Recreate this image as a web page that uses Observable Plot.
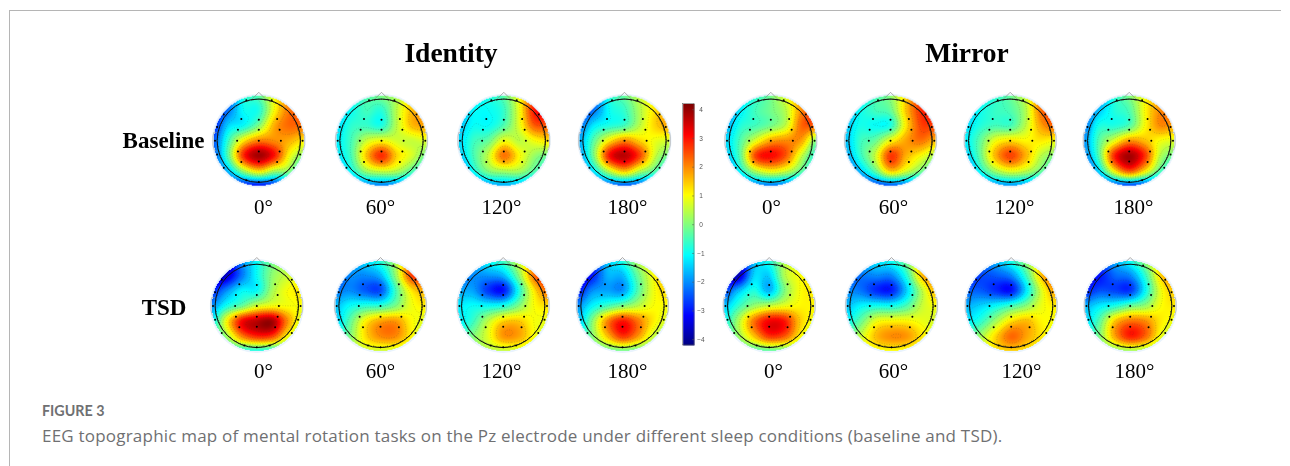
<!DOCTYPE html>
<html><head><meta charset="utf-8">
<script src="https://cdn.jsdelivr.net/npm/d3@7"></script>
<script src="https://cdn.jsdelivr.net/npm/@observablehq/plot@0.6"></script>
<style>
html,body{margin:0;padding:0;background:#fff;width:1290px;height:466px;overflow:hidden}
#all{position:absolute;left:0;top:0;width:1290px;height:466px}
#frame{position:absolute;left:9px;top:10px;width:1271px;height:456px;border-left:1px solid #b5b5b5;border-top:1px solid #b5b5b5}
#chart{position:absolute;left:0;top:0}
#chart svg{filter:blur(.35px)}
#fig{position:absolute;left:42px;top:402px;font:700 14.3px Lato,sans-serif;color:#6f7072}
#cap{position:absolute;left:42px;top:424px;font:400 17px "Open Sans",sans-serif;letter-spacing:.21px;color:#6f7072;white-space:nowrap}
</style></head><body><div id="all">
<div id="frame"></div><div id="chart"></div>
<div id="fig">FIGURE 3</div>
<div id="cap">EEG topographic map of mental rotation tasks on the Pz electrode under different sleep conditions (baseline and TSD).</div>
</div>
<script>
const conditions = ["Identity","Mirror"];
const sleepStates = ["Baseline","TSD"];
const angles = ["0°","60°","120°","180°"];
const colorTicks = [4,3,2,1,0,-1,-2,-3,-4];

const baseIdentity0 = [-3,-2.5,-0.8,-0.3,1,2,2, -3.2,-2.2,-1,-0.8,1,2.2,2.3, -3,-1.4,-1,0,1.7,2.3,2.2, -2.5,-0.6,1.2,2.1,2,1.7,1.2, -2.5,-0.3,2.8,3.9,3,1,0, -2.8,-1.6,0.2,1.2,0.3,0,-1.5, -3.2,-3,-3.2,-3.2,-3,-2.6,-2.4];
const baseIdentity60 = [-1.5,-1,-0.4,0,0.4,1.2,1.5, -1.6,-1,-0.5,-0.7,0.5,1.6,1.8, -1.4,-0.7,-0.6,-0.8,0.5,1.6,1.8, -1.2,-0.5,0.6,1,0.7,0.6,0.8, -1.3,-0.5,1.5,2.8,1.4,0.7,-0.2, -2,-1,0.2,0.6,0.4,-0.4,-1.3, -2.5,-2.4,-2.2,-2.2,-2.2,-2.2,-2.2];
const baseIdentity120 = [-1.8,-1.2,-0.8,-0.3,1,2.6,3.1, -1.8,-1.1,-1,-0.6,0.9,3,3.3, -1.6,-1,-1,-0.4,0.8,2.4,2.4, -1.4,-0.6,-0.2,0.9,0.5,1,1.3, -1.6,-0.5,0.6,2.2,1.1,0.2,-0.2, -2.6,-1,0,0.3,0.3,-0.4,-1, -3,-2.5,-2,-1.8,-1.8,-2,-2];
const baseIdentity180 = [-3,-2.5,-0.8,-0.2,0.6,1.2,1.5, -3,-2.2,-1,-0.6,0.4,1.3,1.8, -2.3,-1.2,-0.8,-0.5,0.5,1.4,1.8, -1.8,-0.3,1.2,2,1.4,0.9,0.7, -2,0,3,3.7,2.6,0.6,-0.2, -2.5,-1.2,0.5,1.5,0.4,-0.4,-1.4, -3,-2.8,-2.6,-2.6,-2.6,-2.6,-2.6];
const baseMirror0 = [-2,-1.3,-0.7,-0.1,0.9,2,2.5, -2.2,-1.2,-0.5,-0.1,0.5,2,3, -1.8,-0.8,-0.5,-0.1,0.6,2.3,2.4, -1.4,-0.4,0.8,1.8,2,1.8,0, -1.6,-0.3,2.6,3.1,2.4,0.6,-0.8, -2.4,-1,0.4,1,0.6,-0.3,-1.2, -3,-2.5,-2.3,-2.3,-2.3,-2.3,-2.3];
const baseMirror60 = [-1.8,-1.3,-0.5,0.1,1.4,2.8,3, -2,-1,-0.5,-0.2,1.5,2.8,3.1, -1.6,-0.9,-1,-0.8,1.2,2.6,2.6, -1.6,-0.6,-0.2,1,1.8,2.2,1.6, -1.9,-0.7,0.6,2.7,1.7,1,0.3, -2.7,-1.6,-0.3,1.4,0.7,-0.1,-0.8, -3.4,-3,-2.8,-2.6,-2.4,-2.2,-2];
const baseMirror120 = [-1.8,-1.2,-0.7,-0.2,0.7,2.2,3, -1.8,-1,-0.6,-0.4,0.4,2.2,3, -1.4,-0.8,-0.5,-0.5,0.5,1.8,2.4, -1.2,-0.3,0.9,1.3,1.1,1.2,1, -1.6,-0.3,1.6,2.6,1.7,0.5,0, -2.5,-1,0.2,0.8,0.5,-0.2,-1, -2.8,-2.4,-2.1,-2,-2,-2.2,-2.2];
const baseMirror180 = [-2.8,-2.2,-0.8,0,1,1.7,1.9, -2.8,-1.6,-0.8,-0.4,1,2,2.2, -2.3,-0.9,-0.8,-0.4,1,2,1.8, -2,-0.4,0.8,1.9,1.6,1,0.8, -2.2,-0.4,2.8,3.9,2.8,0.5,-0.2, -3,-1.4,1,2.4,1.2,-0.4,-1.4, -3.4,-3.1,-2.8,-2.8,-2.8,-2.8,-2.8];
const tsdIdentity0 = [-4,-3.6,-2,-1,-0.1,0.3,0.5, -4,-3.6,-2.2,-1,0.1,0.6,0.9, -3,-2,-1.1,-1,0.3,1,1.2, -2,-0.9,-0.2,0.7,1,1,1, -1.3,1,3.1,3.7,3.9,2,0.6, -1,0.2,2,2.8,2.6,1,0, -1.2,-1,-1,-1,-1,-0.7,-0.7];
const tsdIdentity60 = [-2.2,-1.8,-1.3,-0.7,0.4,2.4,2.8, -2.6,-2,-2,-1.6,0.2,2.6,2.8, -2.2,-2,-2.4,-2.5,-0.5,1.2,1.8, -1.6,-1,-0.7,-0.6,0,0.9,1.2, -1.5,-0.3,1.1,1.8,1.9,1.1,0.8, -1,0,1.3,2,2,1.1,0.3, -0.3,0.3,0.6,0.6,0.6,0.3,0];
const tsdIdentity120 = [-2.4,-1.8,-1,-0.5,0.6,1.8,2.6, -2.4,-2,-1.9,-1.6,0,2.2,3.2, -1.8,-1.8,-2.7,-3,-0.9,1.2,2.4, -1.2,-1,-1,-0.8,0,1,1.3, -1.2,-0.6,0.5,1.4,1.5,1,0.9, -0.7,0,0.8,1.9,1.8,1,0.4, 0,0.1,0.4,0.5,0.6,0.5,0.3];
const tsdIdentity180 = [-3.6,-3,-1.5,-0.8,0.4,1.2,1.5, -3.8,-3,-1.7,-1.6,-0.2,1,1.8, -3.2,-2,-1.8,-1.9,-0.4,0.9,1.4, -2,-1.1,-0.5,0,0.5,1,1, -1.7,0,2,3,2.2,1.2,0.7, -1.2,0,1.5,2.7,1.9,0.6,0, -0.8,-0.5,-0.3,-0.2,-0.3,-0.3,-0.3];
const tsdMirror0 = [-3.8,-3.6,-1.6,-0.8,0.4,0.9,1, -4,-3.7,-1.4,-1.4,0.4,1,1.2, -2.8,-1.6,-0.8,-1.6,0,1,1.2, -1.6,-0.6,0.2,0.6,0.9,1.1,1.1, -1,0.4,2.2,3.2,3,1.5,0.9, -0.8,0.2,1.5,2.7,2.4,1.1,0.3, -0.8,-0.6,-0.5,-0.4,-0.3,-0.2,-0.2];
const tsdMirror60 = [-2,-1.6,-1.2,-0.9,0,1.8,2.4, -2.4,-2.2,-2,-2,-0.7,1.6,2.4, -2,-2.2,-2.8,-2.9,-1.4,0.5,1.8, -1.6,-1.1,-0.9,-0.9,-0.4,0.6,1, -1.1,-0.2,0.9,1.1,1.1,0.9,0.7, -0.5,0.6,1.6,2,1.9,1.2,0.6, 0.2,0.7,0.9,1,0.9,0.7,0.3];
const tsdMirror120 = [-2.6,-2.2,-1.6,-0.8,0.2,1.6,2.4, -3,-2.6,-2.4,-2,-0.5,1.6,2.6, -2.4,-2.4,-2.8,-3,-1.2,0.8,2, -1.7,-1.4,-1,-0.5,0.1,0.9,1.2, -1.2,-0.7,0.3,1.3,1.6,1.1,1, -0.5,0.3,1.4,2.3,1.8,1.2,0.6, 0.2,0.6,1.2,1.4,1.2,0.8,0.4];
const tsdMirror180 = [-3,-2.6,-1.7,-0.9,0.2,1.5,2, -3.2,-3,-2.3,-2,-0.6,1.4,2.2, -3,-2.5,-2.6,-2.7,-1,0.9,1.6, -1.7,-1.2,-0.8,-0.2,0.2,1,1.2, -1.4,-0.3,1.5,2.2,2,1.2,0.9, -1,0,1.8,2.9,2.3,0.9,0.3, -0.7,-0.3,0,0.2,0.2,0,0];

const electrodeX = [-.3,.31,.84,.99,1.05,.99,.84,.31,0,-.3,-.84,-1,-1.05,-1,-.84,-.42,0,.44,-.5,0,.5,-.52,0,.53,-.5,0,.5,-.42,0,.44];
const electrodeY = [.97,.97,.63,.33,0,-.33,-.65,-.95,-.99,-.95,-.65,-.33,0,.33,.63,.52,.5,.52,.26,.26,.26,0,0,0,-.26,-.26,-.26,-.51,-.5,-.51];

const R = 41.7, W = 1290, H = 395;
const rowMaps = [[baseIdentity0,baseIdentity60,baseIdentity120,baseIdentity180,baseMirror0,baseMirror60,baseMirror120,baseMirror180],
                 [tsdIdentity0,tsdIdentity60,tsdIdentity120,tsdIdentity180,tsdMirror0,tsdMirror60,tsdMirror120,tsdMirror180]];
const mapCx = [[258.3,381,503.3,624,770.3,890,1009.7,1128.7],[256.3,380,502.7,622,768.7,891,1010.7,1129.7]];
const mapCy = [140.2,305.4];
const labelX = [[263,380,501,627,771,893,1014,1133],[263,380,501,627,773,893,1021,1134]];
const labelY = [207,371];
const u = p => p / R;

const E = 1.1, N = 7;
function surface(vals){
  const at=(i,j)=>vals[Math.max(0,Math.min(N-1,j))*N+Math.max(0,Math.min(N-1,i))];
  const cr=(a,b,c,d,t)=>b+.5*t*(c-a+t*(2*a-5*b+4*c-d+t*(3*(b-c)+d-a)));
  return (dx,dy)=>{
    const gx=(dx+E)/(2*E)*(N-1), gy=(E-dy)/(2*E)*(N-1);
    const i=Math.floor(gx), j=Math.floor(gy), tx=gx-i, ty=gy-j;
    const row=k=>cr(at(i-1,k),at(i,k),at(i+1,k),at(i+2,k),tx);
    return cr(row(j-1),row(j),row(j+1),row(j+2),ty);
  };
}

const jetDomain = [-4.2,-3.15,-1.05,1.05,3.15,4.2];
const jetRange = ["#00007f","#0000ff","#00ffff","#ffff00","#ff0000","#7f0000"];

const marks = [];
const gray = "#a5a5a5";
rowMaps.forEach((row,r)=>row.forEach((vals,c)=>{
  const cx=u(mapCx[r][c]), cy=u(mapCy[r]), f=surface(vals);
  marks.push(Plot.dot([0],{x:()=>cx,y:()=>cy,r:47,fill:"#eaf4fd",stroke:"none"}));
  marks.push(Plot.raster({x1:cx-1.15,x2:cx+1.15,y1:cy-1.15,y2:cy+1.15,pixelSize:1,
    fill:(x,y)=>{const dx=x-cx,dy=cy-y;return dx*dx+dy*dy<=1.08*1.08?f(dx,dy):NaN;}}));
  marks.push(Plot.contour({x1:cx-1.1,x2:cx+1.1,y1:cy-1.1,y2:cy+1.1,pixelSize:1,
    value:(x,y)=>{const dx=x-cx,dy=cy-y;return dx*dx+dy*dy<=1?f(dx,dy):NaN;},
    thresholds:[-3.5,-3,-2.5,-2,-1.5,-1,-.5,0,.5,1,1.5,2,2.5,3,3.5],
    fill:"none",stroke:"#333",strokeWidth:.5,strokeOpacity:.35,strokeDasharray:"1 1.5"}));
  marks.push(Plot.line([[-.16,1.0],[0,1.16],[.16,1.0]],{x:d=>cx+d[0],y:d=>cy-d[1],stroke:"#8a8a8a",strokeWidth:.7}));
  for(const s of [-1,1]) marks.push(Plot.line([[1.02,.2],[1.08,.2],[1.1,.1],[1.1,-.1],[1.07,-.22],[1.02,-.25]],{x:d=>cx+s*d[0],y:d=>cy-d[1],stroke:gray,strokeWidth:.6}));
  marks.push(Plot.dot([0],{x:()=>cx,y:()=>cy,r:R,fill:"none",stroke:"#111",strokeWidth:1}));
  marks.push(Plot.dot(electrodeX.map((x,i)=>[x,electrodeY[i]]),{x:d=>cx+d[0],y:d=>cy-d[1],r:1,fill:"#000",stroke:"none"}));
}));

const barX=[u(682.7),u(694)], barY0=u(224.2), perUnit=u(28.75);
const barLevels=d3.range(4.2,-4.2,-0.02);
marks.push(Plot.raster(barLevels,{width:1,height:barLevels.length,x1:barX[0],x2:barX[1],y1:barY0-4.2*perUnit,y2:barY0+4.2*perUnit,fill:d=>d,imageRendering:"auto"}));
marks.push(Plot.rect([0],{x1:()=>barX[0],x2:()=>barX[1],y1:()=>barY0-4.2*perUnit,y2:()=>barY0+4.2*perUnit,fill:"none",stroke:"#555",strokeWidth:.5}));
marks.push(Plot.ruleY(colorTicks,{y:d=>barY0-d*perUnit,x1:()=>barX[1]-u(2),x2:()=>barX[1],stroke:"#555",strokeWidth:.5}));
marks.push(Plot.text(colorTicks,{x:()=>u(700.5),y:d=>barY0-d*perUnit,text:d=>d<0?"\u2212"+(-d):String(d),fontSize:6.5,fill:"#555",fontFamily:"Liberation Sans",textAnchor:"middle"}));

const serif="Liberation Serif";
marks.push(Plot.text(conditions,{x:(d,i)=>u([450.5,966.5][i]),y:()=>u(53),text:d=>d,fontSize:27.5,fontWeight:"bold",fontFamily:serif,fill:"#000"}));
marks.push(Plot.text(sleepStates,{x:(d,i)=>u([163,163.5][i]),y:(d,i)=>u([140,307][i]),text:d=>d,fontSize:23,fontWeight:"bold",fontFamily:serif,fill:"#000"}));
labelX.forEach((xs,r)=>xs.forEach((x,c)=>{
  marks.push(Plot.text([angles[c%4]],{x:()=>u(x),y:()=>u(labelY[r]),text:d=>d,fontSize:21,fontFamily:serif,fill:"#000"}));
}));

const chart = Plot.plot({
  width:W,height:H,margin:0,
  x:{domain:[0,W/R],range:[0,W],axis:null},
  y:{domain:[H/R,0],range:[H,0],axis:null},
  color:{type:"linear",domain:jetDomain,range:jetRange,interpolate:"rgb",clamp:true},
  r:{type:"identity"},
  style:{background:"transparent"},
  marks
});
document.getElementById("chart").append(chart);
</script>
</body></html>
